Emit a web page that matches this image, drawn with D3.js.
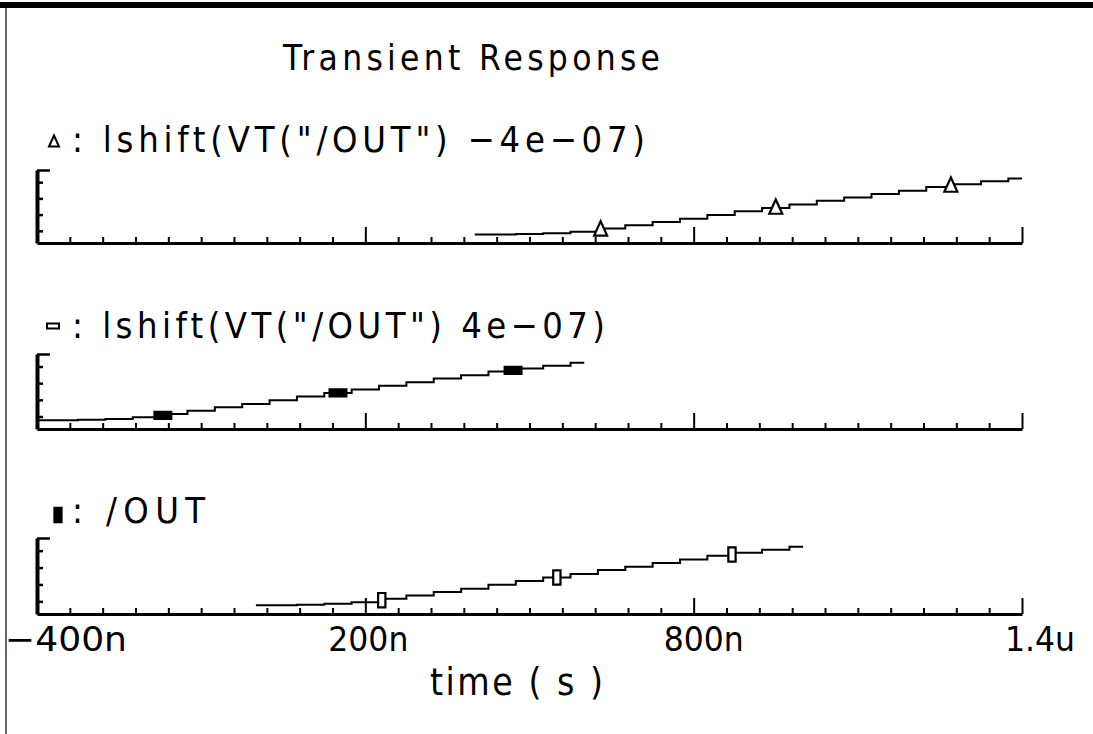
<!DOCTYPE html>
<html><head><meta charset="utf-8">
<script src="https://cdn.jsdelivr.net/npm/d3@7"></script>
<style>
body{margin:0;background:#fff}
svg{display:block}
text{font-family:"Liberation Sans Narrow","DejaVu Sans Condensed","Liberation Sans",sans-serif;fill:#000}
</style></head>
<body><svg id="chart" width="1093" height="734"></svg>
<script>
// ---------------- data ----------------
const titleText = "Transient Response";
const xAxisTitle = "time ( s )";
const xTickValuesNs = [-400, 200, 800, 1400];
const xTickLabels = ["\u2212400n", "200n", "800n", "1.4u"];
const xMinorStepNs = 60;
// base waveform /OUT (time in ns, value in V)
const timeNs = [0, 50, 100, 150, 200, 250, 300, 350, 400, 450, 500, 550, 600, 650, 700, 750, 800, 850, 900, 950, 1000];
const outV   = [-0.045, -0.045, -0.04, -0.03, -0.01, 0.03, 0.07, 0.11, 0.15, 0.195, 0.24, 0.283, 0.325, 0.37, 0.41, 0.455, 0.495, 0.54, 0.575, 0.61, 0.645];
const markerTimesNs = [230, 550, 870];
const panelNames = ["lshift(VT(\"/OUT\") \u22124e\u221207)", "lshift(VT(\"/OUT\") 4e\u221207)", "/OUT"];
const panelShiftNs = [400, -400, 0];
const panelMarkers = ["triangle", "hbar", "vbar"];
const yDomainV = [-0.15, 0.75];
const yTickValuesV = [0, 0.2, 0.4, 0.6];

// ---------------- layout ----------------
const W = 1093, H = 734;
const plotLeft = 37, plotRight = 1022;
const panelTop = [170, 354, 538];
const panelBottom = [243, 429, 614];
const labelBaseline = [152, 338, 523];
const xTickLabelStartDx = [-32, -37, -30, -17];
const xTickLabelWidth = [122, 80, 80, 70];

const svg = d3.select("#chart");
svg.append("rect").attr("x",0).attr("y",0).attr("width",W).attr("height",H).attr("fill","#fff");
// frame
svg.append("rect").attr("x",0).attr("y",2).attr("width",W).attr("height",6).attr("fill","#000");
svg.append("line").attr("x1",6).attr("x2",6).attr("y1",8).attr("y2",H)
  .attr("stroke","#333").attr("stroke-width",1.5);

const x = d3.scaleLinear().domain([xTickValuesNs[0], xTickValuesNs[xTickValuesNs.length-1]]).range([plotLeft, plotRight]);
const minorTicks = d3.range(xTickValuesNs[0], xTickValuesNs[xTickValuesNs.length-1] + 1, xMinorStepNs)
  .filter(v => !xTickValuesNs.includes(v));

function fitText(sel, x0, x1) {
  sel.attr("textLength", x1 - x0).attr("lengthAdjust", "spacing");
}

// title
const title = svg.append("text").attr("x", 283).attr("y", 70).attr("font-size", 35).text(titleText);
fitText(title, 283, 660);

function markerPath(type, s) {
  if (type === "triangle") {
    return `M0,${-s*0.65}L${-s*0.5},${s*0.45}L${s*0.5},${s*0.45}Z`;
  }
  if (type === "hbar") {
    return `M${-s*0.6},${-s*0.25}H${s*0.6}V${s*0.25}H${-s*0.6}Z`;
  }
  return `M${-s*0.28},${-s*0.55}H${s*0.28}V${s*0.55}H${-s*0.28}Z`;
}

panelNames.forEach((name, i) => {
  const g = svg.append("g");
  const y = d3.scaleLinear().domain(yDomainV).range([panelBottom[i], panelTop[i]]);
  const data = timeNs.map((t, k) => ({t: t + panelShiftNs[i], v: outV[k]}));

  // legend marker + label
  g.append("path").attr("transform", `translate(${[54, 53, 58][i]},${labelBaseline[i] - [10, 12, 8][i]})`)
    .attr("d", markerPath(panelMarkers[i], [10, 10, 13][i]))
    .attr("fill", i === 2 ? "#000" : "#fff").attr("stroke", "#000").attr("stroke-width", 2);
  const lab = g.append("text").attr("x", 72).attr("y", labelBaseline[i]).attr("font-size", 36).text(": " + name);
  fitText(lab, 72, [645, 605, 205][i]);

  // x axis (ticks pointing up)
  const gx = g.append("g").attr("transform", `translate(0,${panelBottom[i]})`);
  gx.call(d3.axisTop(x).tickValues(minorTicks).tickSizeInner(6).tickSizeOuter(0).tickFormat(""));
  gx.append("g").call(d3.axisTop(x).tickValues(xTickValuesNs.slice(1)).tickSizeInner(16).tickSizeOuter(0).tickFormat(""))
    .select(".domain").remove();
  gx.selectAll("line").attr("stroke", "#000").attr("stroke-width", 2);
  gx.select(".domain").attr("stroke", "#000").attr("stroke-width", 3);

  // y axis (ticks pointing right)
  const gy = g.append("g").attr("transform", `translate(${plotLeft},0)`);
  gy.call(d3.axisRight(y).tickValues(yTickValuesV).tickSizeInner(6).tickSizeOuter(0).tickFormat(""));
  gy.append("g").call(d3.axisRight(y).tickValues([yDomainV[1]]).tickSizeInner(13).tickSizeOuter(0).tickFormat(""))
    .select(".domain").remove();
  gy.selectAll("line").attr("stroke", "#000").attr("stroke-width", 2.5);
  gy.select(".domain").attr("stroke", "#000").attr("stroke-width", 4);

  // trace
  const line = d3.line().x(d => x(d.t)).y(d => y(d.v)).curve(d3.curveStep);
  g.append("path").datum(data).attr("d", line).attr("fill", "none")
    .attr("stroke", "#000").attr("stroke-width", 2);

  // markers
  const interp = d3.scaleLinear().domain(timeNs).range(outV);
  g.selectAll(".mk").data(markerTimesNs).join("path")
    .attr("transform", t => `translate(${x(t + panelShiftNs[i])},${y(interp(t))})`)
    .attr("d", markerPath(panelMarkers[i], [13, 14, 13][i]))
    .attr("fill", i === 1 ? "#000" : "#fff").attr("stroke", "#000").attr("stroke-width", 2.2);

  // tick labels on the last panel
  if (i === panelNames.length - 1) {
    g.selectAll(".xl").data(xTickValuesNs).join("text")
      .attr("x", (v, k) => x(v) + xTickLabelStartDx[k]).attr("y", 651)
      .attr("font-size", 34)
      .attr("textLength", (v, k) => xTickLabelWidth[k]).attr("lengthAdjust", "spacingAndGlyphs")
      .text((v, k) => xTickLabels[k]);
  }
});

const xt = svg.append("text").attr("x", 430).attr("y", 695).attr("font-size", 37).text(xAxisTitle);
fitText(xt, 430, 603);
</script>
</body></html>
